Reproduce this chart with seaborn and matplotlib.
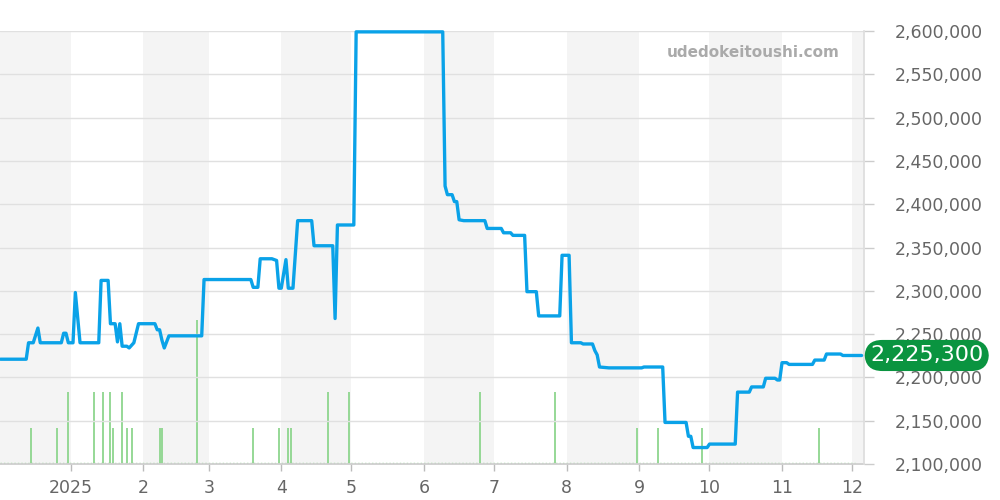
import matplotlib
matplotlib.use("Agg")
import matplotlib.pyplot as plt
import matplotlib.transforms as mtransforms
import pandas as pd
import seaborn as sns

# ---------------- data ----------------
price_dates = [
    "2024-12-02", "2024-12-13", "2024-12-14", "2024-12-16", "2024-12-18", "2024-12-19",
    "2024-12-28", "2024-12-29", "2024-12-30", "2024-12-31", "2025-01-02", "2025-01-03",
    "2025-01-05", "2025-01-13", "2025-01-14", "2025-01-17", "2025-01-18", "2025-01-20",
    "2025-01-21", "2025-01-22", "2025-01-23", "2025-01-25", "2025-01-26", "2025-01-28",
    "2025-01-30", "2025-02-06", "2025-02-07", "2025-02-08", "2025-02-09", "2025-02-10",
    "2025-02-12", "2025-02-26", "2025-02-27", "2025-03-19", "2025-03-20", "2025-03-22",
    "2025-03-23", "2025-03-28", "2025-03-30", "2025-03-31", "2025-04-01", "2025-04-03",
    "2025-04-04", "2025-04-06", "2025-04-08", "2025-04-14", "2025-04-15", "2025-04-23",
    "2025-04-24", "2025-04-25", "2025-05-02", "2025-05-03", "2025-06-09", "2025-06-10",
    "2025-06-11", "2025-06-13", "2025-06-14", "2025-06-15", "2025-06-16", "2025-06-18",
    "2025-06-27", "2025-06-28", "2025-07-04", "2025-07-05", "2025-07-08", "2025-07-09",
    "2025-07-14", "2025-07-15", "2025-07-19", "2025-07-20", "2025-07-29", "2025-07-30",
    "2025-08-02", "2025-08-03", "2025-08-07", "2025-08-08", "2025-08-12", "2025-08-13",
    "2025-08-14", "2025-08-15", "2025-08-19", "2025-09-02", "2025-09-03", "2025-09-11",
    "2025-09-12", "2025-09-21", "2025-09-22", "2025-09-23", "2025-09-24", "2025-09-30",
    "2025-10-01", "2025-10-12", "2025-10-13", "2025-10-18", "2025-10-19", "2025-10-24",
    "2025-10-25", "2025-10-29", "2025-10-30", "2025-10-31", "2025-11-01", "2025-11-03",
    "2025-11-04", "2025-11-14", "2025-11-15", "2025-11-19", "2025-11-20", "2025-11-26",
    "2025-11-27", "2025-12-05",
]
price_values = [
    2221000, 2221000, 2240000, 2240000, 2257000, 2240000,
    2240000, 2251000, 2251000, 2240000, 2240000, 2298000,
    2240000, 2240000, 2312000, 2312000, 2262000, 2262000,
    2241000, 2262000, 2236000, 2236000, 2234000, 2240000,
    2262000, 2262000, 2255000, 2255000, 2243000, 2234000,
    2248000, 2248000, 2313000, 2313000, 2304000, 2304000,
    2337000, 2337000, 2335000, 2303000, 2303000, 2336000,
    2303000, 2303000, 2381000, 2381000, 2352000, 2352000,
    2268000, 2376000, 2376000, 2599000, 2599000, 2421000,
    2411000, 2411000, 2403000, 2403000, 2382000, 2381000,
    2381000, 2372000, 2372000, 2367000, 2367000, 2364000,
    2364000, 2299000, 2299000, 2271000, 2271000, 2341000,
    2341000, 2240000, 2240000, 2238600, 2238600, 2231000,
    2226000, 2212000, 2211000, 2211000, 2212000, 2212000,
    2148000, 2148000, 2132000, 2132000, 2119000, 2119000,
    2123000, 2123000, 2183000, 2183000, 2189000, 2189000,
    2199000, 2199000, 2197000, 2197000, 2217000, 2217000,
    2215000, 2215000, 2220000, 2220000, 2227000, 2227000,
    2225300, 2225300,
]
volume_dates = [
    "2024-12-15", "2024-12-26", "2024-12-31", "2025-01-11", "2025-01-15", "2025-01-18",
    "2025-01-19", "2025-01-23", "2025-01-25", "2025-01-27", "2025-02-08", "2025-02-09",
    "2025-02-24", "2025-03-20", "2025-03-31", "2025-04-04", "2025-04-05", "2025-04-21",
    "2025-04-30", "2025-06-25", "2025-07-27", "2025-08-31", "2025-09-09", "2025-09-28",
    "2025-11-17",
]
volume_counts = [
    1, 1, 2, 2, 2, 2,
    1, 2, 1, 1, 1, 1,
    4, 1, 1, 1, 1, 2,
    2, 2, 2, 1, 1, 1,
    1,
]
month_ticks = ["2025-01-01", "2025-02-01", "2025-03-01", "2025-04-01", "2025-05-01",
               "2025-06-01", "2025-07-01", "2025-08-01", "2025-09-01", "2025-10-01",
               "2025-11-01", "2025-12-01"]
month_labels = ["2025", "2", "3", "4", "5", "6", "7", "8", "9", "10", "11", "12"]
y_ticks = [2100000, 2150000, 2200000, 2250000, 2300000, 2350000,
           2400000, 2450000, 2500000, 2550000, 2600000]
shaded_months = ["2024-12-01", "2025-02-01", "2025-04-01", "2025-06-01",
                 "2025-08-01", "2025-10-01", "2025-12-01"]
last_price = 2225300
watermark = "udedokeitoushi.com"

# ---------------- style ----------------
sns.set_theme(style="white")
plt.rcParams["font.family"] = ["DejaVu Sans"]

LINE = "#0aa2e8"
VOL = "#8ed68e"
BAND = "#f4f4f4"
GRID = "#e0e0e0"
TXT = "#666666"

fig = plt.figure(figsize=(10, 5), dpi=100)
base = fig.add_axes([0.0, 0.072, 0.8637, 0.866])
top = base.twinx()

jan1 = pd.Timestamp("2025-01-01")
x_left = jan1 - pd.Timedelta(days=30.2)
x_right = jan1 + pd.Timedelta(days=338.9)

# month bands
for m in shaded_months:
    s = max(pd.Timestamp(m), x_left)
    e = min(pd.Timestamp(m) + pd.offsets.MonthBegin(1), x_right)
    base.axvspan(s, e, color=BAND, lw=0, zorder=0)

# volume bars
vd = pd.to_datetime(volume_dates)
base.vlines(vd, 0, volume_counts, color=VOL, lw=1.3, zorder=2)
base.hlines(0.03, x_left, pd.Timestamp("2025-12-02"), color=VOL, lw=1.0,
            linestyles=(0, (1, 1.5)), zorder=2)
base.set_ylim(0, 12.03)
base.set_yticks([])
for s in ["left", "top", "right"]:
    base.spines[s].set_visible(False)
base.spines["bottom"].set_color("#cccccc")
base.set_xticks(pd.to_datetime(month_ticks))
base.set_xticklabels(month_labels)
base.tick_params(axis="x", bottom=True, length=5, width=1, color="#bbbbbb",
                 labelsize=12.5, labelcolor=TXT, pad=6)

# price line
df = pd.DataFrame({"date": pd.to_datetime(price_dates), "price": price_values})
sns.lineplot(data=df, x="date", y="price", ax=top, color=LINE, lw=2.4,
             estimator=None, sort=False, clip_on=False, zorder=5)
top.set_ylim(2100000, 2600000)
top.set_yticks(y_ticks)
top.set_yticklabels([f"{v:,}" for v in y_ticks])
top.yaxis.tick_right()
top.tick_params(axis="y", right=True, length=7, width=1, color="#cccccc",
                labelsize=12.5, labelcolor=TXT, pad=15)
top.grid(axis="y", color=GRID, lw=1)
top.grid(axis="x", visible=False)
top.set_xlabel("")
top.set_ylabel("")
base.set_xlabel("")
for s in ["left", "top", "bottom"]:
    top.spines[s].set_visible(False)
top.spines["right"].set_color("#dddddd")

base.set_xlim(x_left, x_right)
top.set_xlim(x_left, x_right)

# watermark
top.text(0.9726, 0.9515, watermark, transform=top.transAxes, ha="right", va="center",
         fontsize=11, fontweight="bold", color="#aaaaaa", zorder=6)

# last price badge
trans = mtransforms.blended_transform_factory(top.transAxes, top.transData)
top.text(1.073, last_price, f"{last_price:,}", transform=trans, ha="center", va="center",
         fontsize=16, color="white", clip_on=False, zorder=10,
         bbox=dict(boxstyle="round,pad=0.25,rounding_size=0.8", fc="#0a9440", ec="none"))

fig.savefig("out.png", dpi=100)
